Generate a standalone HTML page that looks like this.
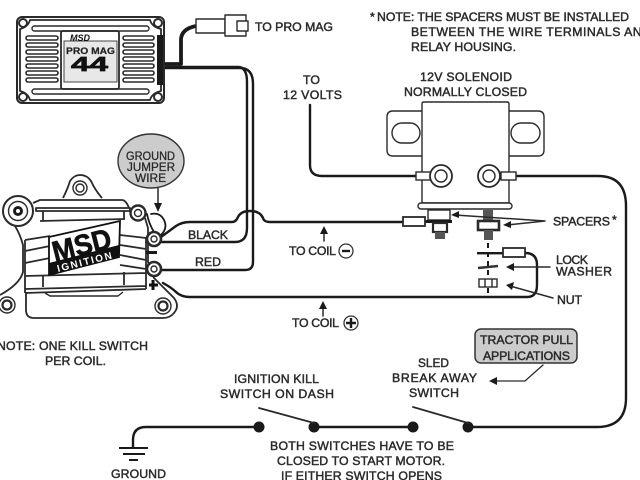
<!DOCTYPE html>
<html><head><meta charset="utf-8"><style>
html,body{margin:0;padding:0;background:#fff}
svg{display:block;filter:blur(.35px)}
text{font-family:"Liberation Sans",sans-serif;font-size:12.300px;fill:#2a2a2a;stroke:#2a2a2a;stroke-width:.45}
.w{fill:none;stroke:#1a1a1a;stroke-width:2.400;stroke-linecap:round;stroke-linejoin:round}
.t{fill:none;stroke:#2a2a2a;stroke-width:1.400;stroke-linejoin:round}
.f{fill:#fff;stroke:#2a2a2a;stroke-width:1.400}
.s{fill:none;stroke:#2a2a2a;stroke-width:2.200;stroke-linecap:round}
.b{fill:#1a1a1a;stroke:none}
</style></head><body>
<svg width="640" height="480" viewBox="0 0 640 480" xmlns="http://www.w3.org/2000/svg">
<!-- wires behind -->
<path class="w" d="M164 64H181V40Q181 29 196 26" style="stroke-width:3.800"/>
<path class="w" d="M164 67H238Q247 67 247 82V228Q247 242 235 242H160"/>
<path class="w" d="M164 68H240Q253 68 253 84V262Q253 270 245 270H160"/>
<path class="w" d="M161 237L176 226Q182 222 190 222H232Q236 222 238 217Q241 211 250 211Q260 211 263 218Q264 222 270 222H403"/>
<path class="w" d="M163 283Q172 288 176 292Q181 297 190 297H527Q537 297 537 285V265Q537 253 525 253"/>
<path class="w" d="M310 105V165Q310 176 322 176H417"/>
<path class="w" d="M515 176H598Q626 176 626 206V398Q626 427 597 427H468"/>
<path class="w" d="M259 427H146Q133 427 133 440V447"/>
<path class="w" d="M314 427H413"/>
<!-- Pro Mag box -->
<rect x="17" y="17" width="147" height="86" rx="5" class="t" style="stroke-width:2"/>
<path class="t" style="stroke-width:1.800" d="M30 20H150Q152 27 161 29V91Q152 93 150 100H30Q28 93 20 91V29Q28 27 30 20Z"/>
<circle cx="23" cy="23" r="4" class="t" style="stroke-width:2"/><circle cx="158" cy="23" r="4" class="t" style="stroke-width:2"/>
<circle cx="23" cy="97" r="4" class="t" style="stroke-width:2"/><circle cx="158" cy="97" r="4" class="t" style="stroke-width:2"/>
<rect x="32" y="26" width="117" height="5" rx="2.500" class="t"/>
<rect x="32" y="89" width="117" height="5" rx="2.500" class="t"/>
<g class="t" style="stroke-width:1.600">
<rect x="26" y="36" width="32" height="4" rx="2"/><rect x="26" y="43" width="32" height="4" rx="2"/><rect x="26" y="50" width="32" height="4" rx="2"/><rect x="26" y="57" width="32" height="4" rx="2"/><rect x="26" y="64" width="32" height="4" rx="2"/><rect x="26" y="71" width="32" height="4" rx="2"/><rect x="26" y="78" width="32" height="4" rx="2"/>
<rect x="123" y="36" width="31" height="4" rx="2"/><rect x="123" y="43" width="31" height="4" rx="2"/><rect x="123" y="50" width="31" height="4" rx="2"/><rect x="123" y="57" width="31" height="4" rx="2"/><rect x="123" y="64" width="31" height="4" rx="2"/><rect x="123" y="71" width="31" height="4" rx="2"/><rect x="123" y="78" width="31" height="4" rx="2"/>
</g>
<rect x="61" y="31" width="58" height="58" rx="2" class="t" style="stroke-width:1.800"/>
<rect x="64" y="41" width="53" height="41" fill="#e8e8e8" stroke="#444" stroke-width="1"/>
<rect x="157" y="35" width="6" height="50" class="b"/>
<text x="70" y="41" textLength="20" lengthAdjust="spacingAndGlyphs" style="font-size:9px;font-weight:bold;font-style:italic;fill:#111;stroke:none">MSD</text>
<text x="66" y="54" textLength="49" lengthAdjust="spacingAndGlyphs" style="font-size:9.500px;font-weight:bold;fill:#222;stroke:#222;stroke-width:.2">PRO MAG</text>
<text x="71" y="71" textLength="37" lengthAdjust="spacingAndGlyphs" style="font-size:20px;font-weight:bold;fill:#111;stroke:#111;stroke-width:.7">44</text>
<!-- connector -->
<rect x="196" y="19" width="29" height="14" class="t" style="fill:#fff"/>
<path class="t" d="M225 15H246V36H225Z" style="fill:#fff"/>
<rect x="237" y="21" width="11" height="10" class="t" style="fill:#fff"/>
<text x="255" y="31" textLength="78">TO PRO MAG</text>
<!-- notes -->
<text x="370" y="21">*</text>
<text x="377" y="21" textLength="252">NOTE: THE SPACERS MUST BE INSTALLED</text>
<text x="411" y="36" textLength="240">BETWEEN THE WIRE TERMINALS AND</text>
<text x="411" y="51" textLength="105">RELAY HOUSING.</text>
<text x="303" y="84" textLength="17">TO</text>
<text x="283" y="99" textLength="59">12 VOLTS</text>
<text x="420" y="81" textLength="92">12V SOLENOID</text>
<text x="404" y="96" textLength="123">NORMALLY CLOSED</text>
<!-- solenoid -->
<path class="t" d="M422 111H393Q387 111 387 117V150Q387 156 393 156H422"/>
<path class="t" d="M509 111H538Q544 111 544 117V150Q544 156 538 156H509"/>
<rect x="392" y="123" width="28" height="20" rx="10" class="t"/>
<rect x="511" y="123" width="29" height="20" rx="10" class="t"/>
<path class="f" d="M422 104Q422 102 424 102H507Q509 102 509 104V203H422Z"/>
<rect x="418" y="203" width="94" height="6" rx="3" class="f"/>
<rect x="416" y="172" width="15" height="8" class="f"/>
<rect x="501" y="172" width="15" height="8" class="f"/>
<circle cx="441" cy="176" r="11" class="f" style="stroke-width:1.800"/><circle cx="441" cy="176" r="6" class="t"/>
<circle cx="489" cy="176" r="11" class="f" style="stroke-width:1.800"/><circle cx="489" cy="176" r="6" class="t"/>
<!-- left terminal stack -->
<rect x="428" y="210" width="22" height="10" class="f"/>
<rect x="425" y="220" width="27" height="3" class="b"/>
<rect x="433" y="223" width="14" height="9" class="f" style="stroke-width:2.200"/>
<rect x="435" y="232" width="10" height="7" fill="#555"/>
<rect x="403" y="217" width="22" height="9" class="f" style="stroke-width:1.800"/>
<!-- right terminal stack -->
<rect x="483" y="210" width="10" height="10" fill="#555"/>
<rect x="478" y="221" width="21" height="9" class="f" style="stroke-width:2.600"/>
<rect x="484" y="230" width="9" height="10" fill="#555"/>
<path d="M488 243V293" stroke="#1a1a1a" stroke-width="2" stroke-dasharray="5 4" fill="none"/>
<rect x="477" y="252" width="27" height="2.400" class="b"/>
<rect x="503" y="248" width="22" height="9" class="f" style="stroke-width:1.800"/>
<path d="M478 268L498 266" stroke="#333" stroke-width="2.600"/>
<rect x="479" y="279" width="18" height="8" class="f"/>
<path class="t" d="M485 279V287M492 279V287"/>
<!-- right labels -->
<text x="553" y="225.500" textLength="57">SPACERS</text><text x="612" y="224">*</text>
<path class="s" style="stroke-width:1.500" d="M545 221L455 215M545 221L507 225M550 267H510M553 298L510 286"/>
<path class="b" d="M451 215L459 211V218ZM503 225L511 221V228ZM506 267L514 263V271ZM506 285L514 282L512 290Z"/>
<text x="556" y="264" textLength="32">LOCK</text>
<text x="556" y="275.500" textLength="56">WASHER</text>
<text x="557" y="304" textLength="25">NUT</text>
<!-- ground jumper -->
<ellipse cx="151" cy="161" rx="33" ry="27" fill="#ccc" stroke="#333" stroke-width="1.400"/>
<text x="126" y="160" textLength="49" lengthAdjust="spacingAndGlyphs" style="stroke-width:.3">GROUND</text>
<text x="127" y="171" textLength="48" lengthAdjust="spacingAndGlyphs" style="stroke-width:.3">JUMPER</text>
<text x="135" y="182" textLength="31" lengthAdjust="spacingAndGlyphs" style="stroke-width:.3">WIRE</text>
<path class="s" style="stroke-width:1.500" d="M158 188V206"/>
<path class="b" d="M158 212L154 203H162Z"/>
<!-- ignition box -->
<path class="t" style="stroke-width:1.800" d="M63 198Q68 188 70 181Q74 175 80 175Q87 175 91 181Q95 190 102 198"/>
<path class="t" style="stroke-width:1.800" d="M15 226Q20 234 23 245V272Q20 284 0 295"/>
<path class="t" style="stroke-width:1.800" d="M145 218L148 228V262L154 278L174 298Q180 306 174 313Q170 318 163 318H34Q26 318 26 310V292"/>
<path class="t" style="stroke-width:1.800" d="M33 203L40 200Q41 200 45 200H122Q126 200 129 208M36 208H130V211H36Z"/>
<path class="t" style="stroke-width:1.800" d="M40 221L125 219M43 211V221M124 211V219M43 275V287M124 272V285"/>
<path class="t" style="stroke-width:1.800" d="M25 240L50 236M25 251L50 246M25 263L50 258M25 276L146 273M25 289L146 286M25 293L146 289M120 235L146 238M120 245L146 249M120 255L146 260M120 265L146 269M25 240V293M146 237V289"/>
<path class="t" d="M45 293L50 296H118L123 292"/>
<circle cx="18" cy="211" r="15" class="f" style="stroke-width:2"/>
<circle cx="18" cy="211" r="9.500" class="t"/>
<circle cx="18" cy="211" r="5" class="b"/>
<circle cx="18" cy="211" r="2" fill="#fff"/>
<circle cx="80" cy="188" r="7" class="f"/><circle cx="80" cy="188" r="4" class="t"/>
<circle cx="138" cy="213" r="7.500" class="f" style="stroke-width:2.400"/><circle cx="138" cy="213" r="3.500" class="t"/>
<circle cx="7" cy="305" r="8" class="f"/><circle cx="7" cy="305" r="4.500" class="t" style="stroke-width:2.200"/>
<circle cx="163" cy="306" r="8" class="f"/><circle cx="163" cy="306" r="4.500" class="t" style="stroke-width:2.200"/>
<path class="w" d="M151 214Q160 212 164 220Q168 228 161 235" style="stroke-width:1.800"/>
<path class="w" d="M147 214Q149 224 154 232" style="stroke-width:1.800"/>
<circle cx="154" cy="239" r="7" class="f" style="stroke-width:2.600"/><circle cx="154" cy="239" r="3" class="t"/>
<circle cx="154" cy="269" r="7" class="f" style="stroke-width:2.600"/><circle cx="154" cy="269" r="3" class="t"/>
<rect x="146" y="251" width="11" height="3" class="b"/>
<path d="M149 285H158M153 280V290" stroke="#111" stroke-width="3" fill="none"/>
<path d="M49 237L120 221L119 257L49 275Z" fill="#fff" stroke="#111" stroke-width="1.800"/>
<path d="M49 263L119 245L119 257L49 275Z" fill="#111"/>
<text x="0" y="0" transform="translate(55 262) rotate(-14)" textLength="60" lengthAdjust="spacingAndGlyphs" style="font-size:29px;font-weight:bold;fill:#111;stroke:#111;stroke-width:.7">MSD</text>
<text x="0" y="0" transform="translate(58 272) rotate(-14)" textLength="56" style="font-size:10px;font-weight:bold;fill:#fff;stroke:none">IGNITION</text>
<!-- coil labels -->
<text x="188" y="239" textLength="40">BLACK</text>
<text x="195" y="266" textLength="26">RED</text>
<text x="289" y="255" textLength="47">TO COIL</text>
<circle cx="346" cy="251" r="7" fill="none" stroke="#333" stroke-width="1.300"/>
<path d="M342 251H350" stroke="#1a1a1a" stroke-width="2.400"/>
<text x="292" y="327" textLength="47">TO COIL</text>
<circle cx="351" cy="323" r="7" fill="none" stroke="#333" stroke-width="1.300"/>
<path d="M346 323H356M351 318V328" stroke="#1a1a1a" stroke-width="2.400"/>
<path class="s" style="stroke-width:1.500" d="M324 241V231M323 316V306"/>
<path class="b" d="M324 226L320 234H328ZM323 301L319 309H327Z"/>
<!-- left note -->
<text x="-3" y="350" textLength="151">NOTE: ONE KILL SWITCH</text>
<text x="45" y="365" textLength="61">PER COIL.</text>
<!-- ground -->
<path d="M119 448H148M123 454H145M129 460H138" stroke="#1a1a1a" stroke-width="2" fill="none"/>
<text x="111" y="478" textLength="55">GROUND</text>
<!-- switches -->
<circle cx="259" cy="427" r="5.500" class="b"/><circle cx="314" cy="427" r="5.500" class="b"/>
<circle cx="413" cy="427" r="5.500" class="b"/><circle cx="468" cy="427" r="5.500" class="b"/>
<path class="s" style="stroke-width:1.800" d="M259 408L314 423M413 407L468 423"/>
<text x="234" y="383" textLength="85">IGNITION KILL</text>
<text x="220" y="398" textLength="114">SWITCH ON DASH</text>
<text x="418" y="367" textLength="31" lengthAdjust="spacingAndGlyphs">SLED</text>
<text x="392" y="382" textLength="85">BREAK AWAY</text>
<text x="409" y="397" textLength="50">SWITCH</text>
<rect x="475" y="329" width="102" height="34" rx="6" fill="#ccc" stroke="#333" stroke-width="1.500"/>
<text x="480" y="344" textLength="93">TRACTOR PULL</text>
<text x="483" y="360" textLength="87">APPLICATIONS</text>
<path class="s" style="stroke-width:1.300" d="M543 365L525 381H495"/>
<path class="b" d="M489 381L497 377V385Z"/>
<text x="270" y="450" textLength="184">BOTH SWITCHES HAVE TO BE</text>
<text x="277" y="465" textLength="168">CLOSED TO START MOTOR.</text>
<text x="281" y="480" textLength="161">IF EITHER SWITCH OPENS</text>
</svg>
</body></html>
